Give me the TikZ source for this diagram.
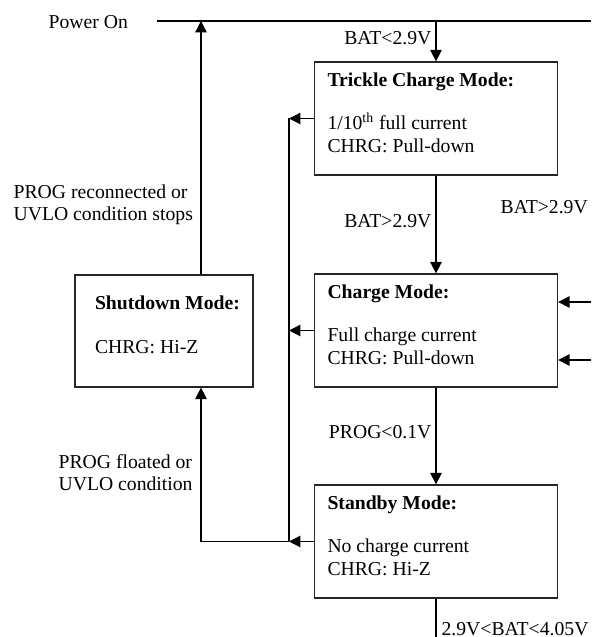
\documentclass[tikz,border=0pt]{standalone}
\usepackage{fontspec}
\setmainfont{Liberation Serif}
\usetikzlibrary{arrows.meta}

\begin{document}
\begin{tikzpicture}[
        >={Triangle[length=6.5pt,width=6.5pt]},
        line width=0.7pt,
        modebox/.style={rectangle, draw=black!85, minimum width=4.86cm, minimum height=2.26cm, inner sep=0pt},
        modetext/.style={anchor=north west, inner sep=0pt, align=left, font=\fontsize{11.2}{12.6}\selectfont},
        condtext/.style={inner sep=0pt, align=left, font=\fontsize{11.2}{12.6}\selectfont},
        ]
        \useasboundingbox (0,0) rectangle (11.82,12.74);

        % Nodes
        \node[modebox] (trickle) at (8.72,10.37) {};
        \node[modebox] (charge) at (8.72,6.13) {};
        \node[modebox] (standby) at (8.72,1.91) {};
        \node[modebox, minimum width=3.56cm, minimum height=2.24cm] (shutdown) at (3.28,6.12) {};

        \node[modetext] (trickletxt) at ([shift={(0.26,-0.22)}]trickle.north west)
            {\textbf{Trickle Charge Mode:}\\[12pt]1/10\textsuperscript{th} full current\\CHRG: Pull-down};
        \node[modetext] (chargetxt) at ([shift={(0.26,-0.22)}]charge.north west)
            {\textbf{Charge Mode:}\\[12pt]Full charge current\\CHRG: Pull-down};
        \node[modetext] (standbytxt) at ([shift={(0.26,-0.22)}]standby.north west)
            {\textbf{Standby Mode:}\\[12pt]No charge current\\CHRG: Hi-Z};
        \node[modetext] (shutdowntxt) at ([shift={(0.40,-0.42)}]shutdown.north west)
            {\textbf{Shutdown Mode:}\\[12.5pt]CHRG: Hi-Z};

        % Labels
        \node[condtext, anchor=west] (poweron) at (0.96,12.30) {Power On};
        \node[condtext, anchor=east] (batlow) at (8.64,11.98) {BAT<2.9V};
        \node[condtext, anchor=east] (bathigh) at (8.64,8.32) {BAT>2.9V};
        \node[condtext, anchor=west] (bathighr) at (10.0,8.60) {BAT>2.9V};
        \node[condtext, anchor=east] (proglow) at (8.64,4.10) {PROG<0.1V};
        \node[condtext, anchor=west] (batrange) at (8.82,0.16) {2.9V<BAT<4.05V};
        \node[condtext, anchor=west] (reconn) at (0.26,8.65) {PROG reconnected or\\UVLO condition stops};
        \node[condtext, anchor=west] (floated) at (1.16,3.29) {PROG floated or\\UVLO condition};

        % Power on line
        \coordinate (pstart) at (3.14,12.32);
        \coordinate (pend) at (11.82,12.32);
        \draw (pstart) -- (pend);
        \draw[->] (trickle.north |- pend) -- (trickle.north);

        % Mode to mode
        \draw[->] (trickle.south) -- (charge.north);
        \draw[->] (charge.south) -- (standby.north);
        \coordinate (bottom) at (8.72,0);
        \draw (standby.south) -- (bottom);

        % From the right
        \coordinate (in1) at (11.82,6.70);
        \coordinate (in2) at (11.82,5.54);
        \draw[->] (in1) -- (in1 -| charge.east);
        \draw[->] (in2) -- (in2 -| charge.east);

        % Shutdown bus
        \coordinate (bus) at (5.78,12.0);
        \coordinate (sdport) at (4.02,6.12);
        \draw[->] (trickle.west) -- (bus |- trickle.west);
        \draw[->] (charge.west) -- (bus |- charge.west);
        \draw[->] (standby.west) -- (bus |- standby.west);
        \draw (bus |- trickle.west) -- (bus |- standby.west);
        \draw[->] (bus |- standby.west) -| (sdport |- shutdown.south);

        % Shutdown back to power on
        \draw[->] (sdport |- shutdown.north) -- (sdport |- pend);

    \end{tikzpicture}
\end{document}
